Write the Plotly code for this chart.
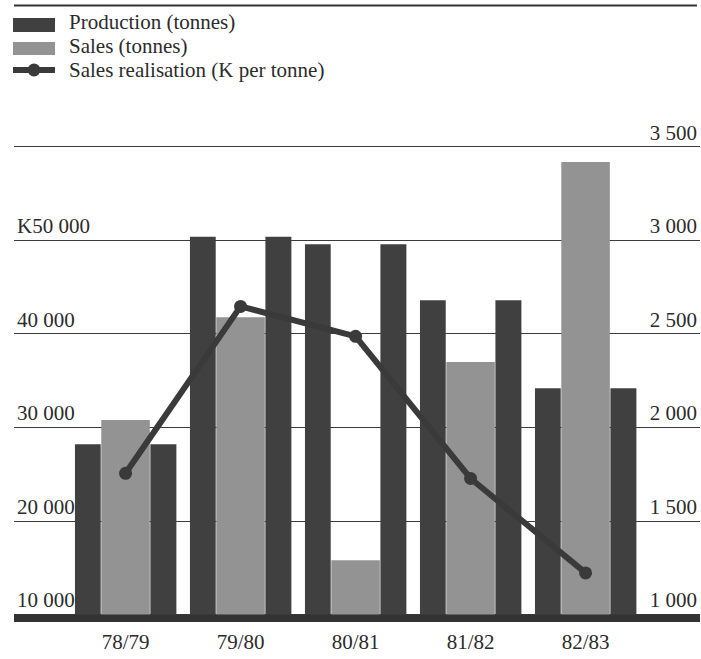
import plotly.graph_objects as go

# ---- data ----
categories = ["78/79", "79/80", "80/81", "81/82", "82/83"]
production_tonnes = [1910, 3020, 2980, 2680, 2210]
sales_tonnes = [2040, 2590, 1290, 2350, 3420]
realisation_k_per_tonne = [25100, 42950, 39750, 24550, 14450]

tonne_ticks = [1000, 1500, 2000, 2500, 3000, 3500]
tonne_labels = ["1 000", "1 500", "2 000", "2 500", "3 000", "3 500"]
k_ticks = [10000, 20000, 30000, 40000, 50000]
k_labels = ["10 000", "20 000", "30 000", "40 000", "K50 000"]

legend_labels = ["Production (tonnes)", "Sales (tonnes)", "Sales realisation (K per tonne)"]

# ---- style ----
DARK = "#404040"
GREY = "#939393"
LINE = "#3a3a3a"
TEXT = "#2b2b2b"
FONT = "Liberation Serif"

W, H = 701, 659
ML, MR, MT, MB = 14, 1, 120, 37
PW, PH = W - ML - MR, H - MT - MB


def px_x(p):
    return (p - ML) / PW


def px_y(p):
    return (H - MB - p) / PH


fig = go.Figure()

fig.add_trace(go.Bar(x=categories, y=production_tonnes, name=legend_labels[0],
                     marker=dict(color=DARK, line=dict(width=0)),
                     offset=-0.44, width=0.224, yaxis="y", showlegend=False))
fig.add_trace(go.Bar(x=categories, y=sales_tonnes, name=legend_labels[1],
                     marker=dict(color=GREY, line=dict(width=0)),
                     offset=-0.211, width=0.422, yaxis="y", showlegend=False))
fig.add_trace(go.Bar(x=categories, y=production_tonnes, name=legend_labels[0],
                     marker=dict(color=DARK, line=dict(width=0)),
                     offset=0.216, width=0.226, yaxis="y", showlegend=False))
fig.add_trace(go.Scatter(x=categories, y=realisation_k_per_tonne, name=legend_labels[2],
                         mode="lines+markers", yaxis="y2",
                         line=dict(color=LINE, width=6),
                         marker=dict(color=LINE, size=13),
                         showlegend=False))

shapes = []
annotations = []

# top rule
shapes.append(dict(type="line", xref="paper", yref="paper",
                   x0=px_x(14), x1=px_x(697), y0=px_y(5.5), y1=px_y(5.5),
                   line=dict(color="#333333", width=2)))
# thick baseline
shapes.append(dict(type="rect", xref="paper", yref="y", layer="above",
                   x0=0, x1=1, y0=960, y1=1000,
                   fillcolor="#333333", line=dict(width=0)))

# manual legend
shapes.append(dict(type="rect", xref="paper", yref="paper",
                   x0=px_x(13), x1=px_x(55), y0=px_y(32), y1=px_y(18),
                   fillcolor=DARK, line=dict(width=0)))
shapes.append(dict(type="rect", xref="paper", yref="paper",
                   x0=px_x(13), x1=px_x(55), y0=px_y(55), y1=px_y(42),
                   fillcolor=GREY, line=dict(width=0)))
shapes.append(dict(type="line", xref="paper", yref="paper",
                   x0=px_x(13), x1=px_x(55), y0=px_y(70), y1=px_y(70),
                   line=dict(color=LINE, width=6)))
shapes.append(dict(type="circle", xref="paper", yref="paper",
                   x0=px_x(27.5), x1=px_x(40.5), y0=px_y(76.5), y1=px_y(63.5),
                   fillcolor=LINE, line=dict(width=0)))
for label, yc in zip(legend_labels, [22, 46, 70]):
    annotations.append(dict(text=label, xref="paper", yref="paper",
                            x=px_x(68), y=px_y(yc), xanchor="left", yanchor="middle",
                            showarrow=False, borderpad=0,
                            font=dict(family=FONT, size=21, color=TEXT)))

fig.update_layout(
    width=W, height=H,
    margin=dict(l=ML, r=MR, t=MT, b=MB, pad=0),
    paper_bgcolor="white", plot_bgcolor="white",
    barmode="overlay",
    showlegend=False,
    font=dict(family=FONT, size=21, color=TEXT),
    xaxis=dict(type="category", range=[-0.97, 4.995], showgrid=False,
               showline=False, zeroline=False, ticks="",
               ticklabelstandoff=5,
               tickfont=dict(family=FONT, size=21, color=TEXT)),
    yaxis=dict(side="right", range=[960, 3644], tickvals=tonne_ticks,
               ticktext=tonne_labels, ticklabelposition="inside top",
               showgrid=True, gridcolor="#3c3c3c", gridwidth=1,
               zeroline=False, showline=False, ticks="",
               tickfont=dict(family=FONT, size=21, color=TEXT)),
    yaxis2=dict(side="left", overlaying="y", range=[9200, 62880],
                tickvals=k_ticks, ticktext=k_labels,
                ticklabelposition="inside top", showgrid=False,
                zeroline=False, showline=False, ticks="",
                tickfont=dict(family=FONT, size=21, color=TEXT)),
    shapes=shapes,
    annotations=annotations,
)

fig.write_html("out.html", config={"displayModeBar": False},
               post_script="document.body.style.margin='0';")
